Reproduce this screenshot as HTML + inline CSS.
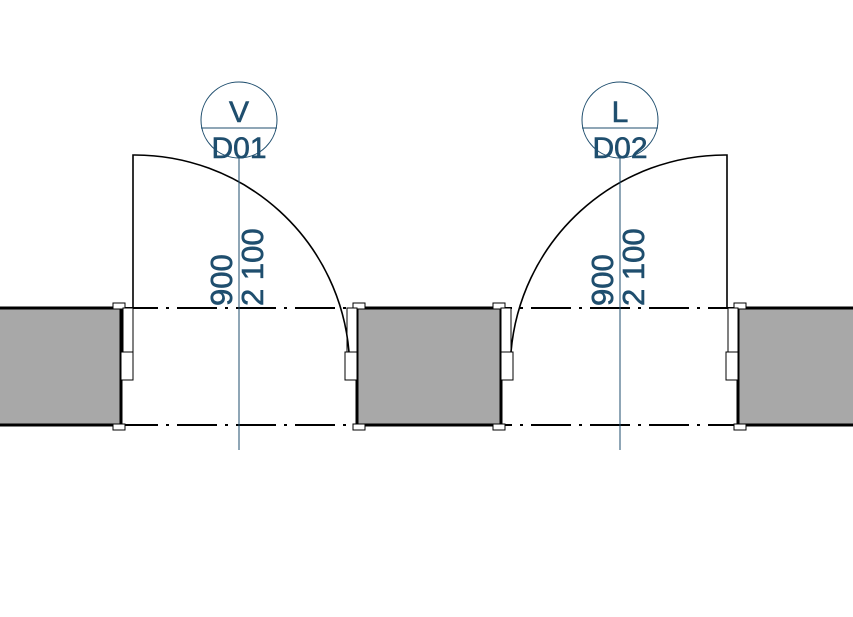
<!DOCTYPE html><html><head><style>body{margin:0;background:#fff}svg{display:block}</style></head><body>
<svg width="853" height="617" viewBox="0 0 853 617" xmlns="http://www.w3.org/2000/svg" font-family="Liberation Sans, sans-serif">
<rect width="853" height="617" fill="#fff"/>
<g stroke="#000" stroke-width="2" stroke-dasharray="40 8 3 8" fill="none">
<line x1="0" y1="308" x2="853" y2="308"/>
<line x1="0" y1="425" x2="853" y2="425"/>
</g>
<g fill="#a8a8a8" stroke="#000" stroke-width="3">
<rect x="-5" y="308" width="126" height="117"/>
<rect x="357" y="308" width="144" height="117"/>
<rect x="738" y="308" width="120" height="117"/>
</g>
<g fill="#fff" stroke="#000" stroke-width="1">
<rect x="113" y="303" width="12" height="6"/><rect x="113" y="424" width="12" height="6"/>
<rect x="123" y="308" width="10" height="44"/><rect x="121" y="352" width="12" height="28"/>
<rect x="353" y="303" width="12" height="6"/><rect x="353" y="424" width="12" height="6"/>
<rect x="347" y="308" width="10" height="44"/><rect x="345" y="352" width="12" height="28"/>
<rect x="493" y="303" width="12" height="6"/><rect x="493" y="424" width="12" height="6"/>
<rect x="501" y="308" width="10" height="44"/><rect x="501" y="352" width="12" height="28"/>
<rect x="734" y="303" width="12" height="6"/><rect x="734" y="424" width="12" height="6"/>
<rect x="728" y="308" width="10" height="44"/><rect x="726" y="352" width="12" height="28"/>
</g>
<g stroke="#000" stroke-width="1.6" fill="none">
<path d="M133 308 V155 A215 215 0 0 1 349 352"/>
<path d="M727 308 V155 A215 215 0 0 0 511 352"/>
</g>
<g stroke="#1f4e6e" stroke-width="1" fill="#fff">
<line x1="239" y1="158" x2="239" y2="450"/>
<line x1="620" y1="158" x2="620" y2="450"/>
<circle cx="239" cy="120" r="38"/><line x1="201" y1="128" x2="277" y2="128"/>
<circle cx="620" cy="120" r="38"/><line x1="582" y1="128" x2="658" y2="128"/>
</g>
<g fill="#1f4e6e" stroke="#1f4e6e" stroke-width="0.6" font-size="30" text-anchor="middle">
<text x="239" y="122">V</text><text x="239" y="158">D01</text>
<text x="620" y="122">L</text><text x="620" y="158">D02</text>
</g>
<g fill="#1f4e6e" stroke="#1f4e6e" stroke-width="0.6" font-size="31" text-anchor="start">
<text transform="translate(232,306) rotate(-90)">900</text>
<text transform="translate(263,306) rotate(-90)">2 100</text>
<text transform="translate(613,306) rotate(-90)">900</text>
<text transform="translate(644,306) rotate(-90)">2 100</text>
</g>
</svg></body></html>
